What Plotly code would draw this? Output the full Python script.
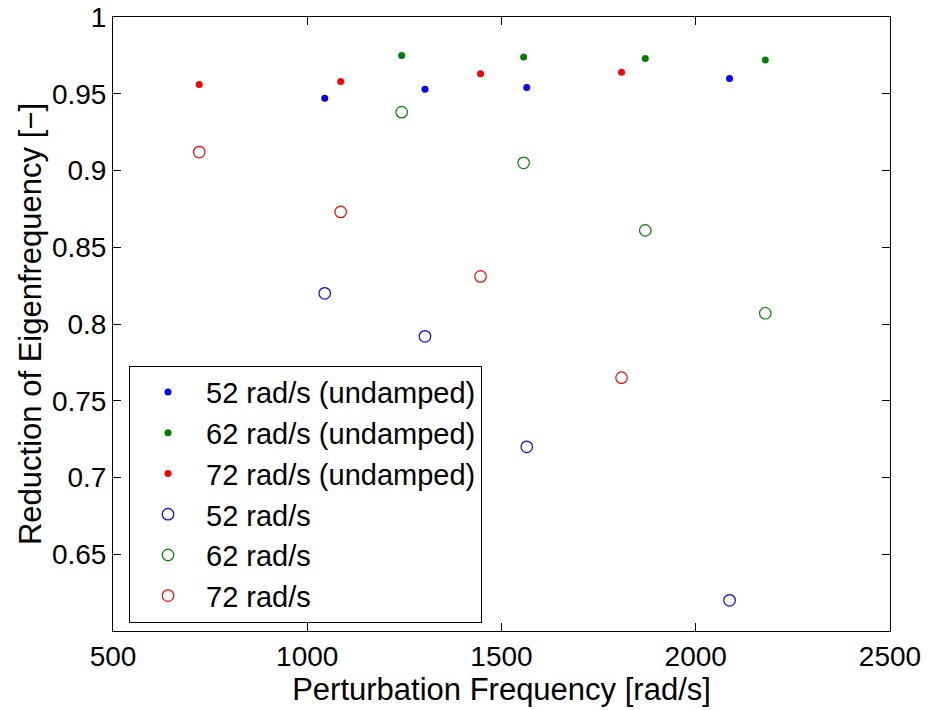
import plotly.graph_objects as go

# Perturbation frequency [rad/s] per series
x_52 = [1045, 1303, 1565, 2087]
x_62 = [1243, 1557, 1870, 2179]
x_72 = [722, 1086, 1446, 1809]

# Undamped reduction of eigenfrequency
y_52_undamped = [0.947, 0.953, 0.954, 0.960]
y_62_undamped = [0.975, 0.974, 0.973, 0.972]
y_72_undamped = [0.956, 0.958, 0.963, 0.964]

# Damped reduction of eigenfrequency
y_52 = [0.820, 0.792, 0.720, 0.620]
y_62 = [0.938, 0.905, 0.861, 0.807]
y_72 = [0.912, 0.873, 0.831, 0.765]

labels_undamped = ["52 rad/s (undamped)", "62 rad/s (undamped)", "72 rad/s (undamped)"]
labels_damped = ["52 rad/s", "62 rad/s", "72 rad/s"]
colors = ["rgb(0,0,255)", "rgb(0,128,0)", "rgb(255,0,0)"]

x_ticks = [500, 1000, 1500, 2000, 2500]
y_ticks = [0.65, 0.7, 0.75, 0.8, 0.85, 0.9, 0.95, 1]

FONT = "Liberation Sans, Arial, Helvetica, sans-serif"

fig = go.Figure()
for xs, ys, name, c in zip([x_52, x_62, x_72], [y_52_undamped, y_62_undamped, y_72_undamped], labels_undamped, colors):
    fig.add_trace(go.Scatter(x=xs, y=ys, mode="markers", name=name,
                             marker=dict(symbol="circle", size=7, color=c, line=dict(width=0))))
for xs, ys, name, c in zip([x_52, x_62, x_72], [y_52, y_62, y_72], labels_damped, colors):
    fig.add_trace(go.Scatter(x=xs, y=ys, mode="markers", name=name,
                             marker=dict(symbol="circle-open", size=11.5, color=c, line=dict(width=1.2, color=c))))

axis_common = dict(showgrid=False, zeroline=False, showline=True, linecolor="black", linewidth=1,
                   mirror="ticks", ticks="inside", ticklen=8, tickcolor="black", tickwidth=1,
                   automargin=False, ticklabeloverflow="allow",
                   tickfont=dict(family=FONT, size=28, color="black"))

fig.update_xaxes(range=[500, 2500], tickvals=x_ticks, ticktext=[str(v) for v in x_ticks],
                 title=dict(text="Perturbation Frequency [rad/s]", font=dict(family=FONT, size=31, color="black"), standoff=4),
                 **axis_common)
fig.update_yaxes(range=[0.6, 1], tickvals=y_ticks, ticktext=[f"{v:g}" for v in y_ticks],
                 title=dict(text="Reduction of Eigenfrequency [−]", font=dict(family=FONT, size=31, color="black"), standoff=1),
                 **axis_common)

fig.update_layout(
    width=932, height=710,
    margin=dict(l=113, r=42, t=17, b=79),
    plot_bgcolor="white", paper_bgcolor="white",
    font=dict(family=FONT, size=28, color="black"),
    showlegend=True,
    legend=dict(x=0.0206, y=0.432, xanchor="left", yanchor="top",
                bordercolor="black", borderwidth=1, bgcolor="white",
                font=dict(family=FONT, size=29, color="black"),
                tracegroupgap=0, itemsizing="trace", itemwidth=66),
)

fig.write_html("out.html", config={"displayModeBar": False},
               post_script="document.body.style.margin='0';document.body.style.overflow='hidden';")
